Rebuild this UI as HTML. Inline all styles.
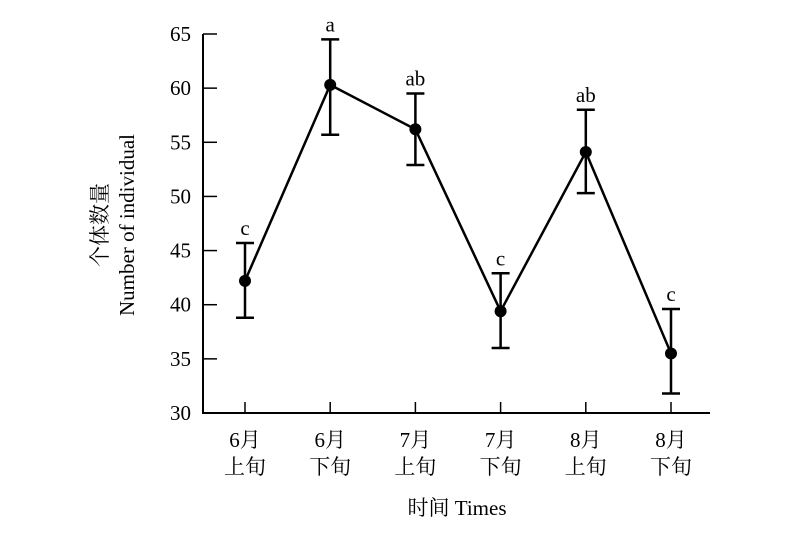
<!DOCTYPE html>
<html><head><meta charset="utf-8"><style>body{margin:0;background:#fff}svg{display:block}text{font-family:"Liberation Serif","Noto Serif CJK SC",serif;fill:#000}</style></head>
<body>
<svg width="800" height="536" xmlns="http://www.w3.org/2000/svg">
<g id="axes"></g><g id="marks"></g>
</svg>
<script>
const categories=[["6月","上旬"],["6月","下旬"],["7月","上旬"],["7月","下旬"],["8月","上旬"],["8月","下旬"]];
const means=[42.2,60.3,56.2,39.4,54.1,35.5];
const lows=[38.8,55.7,52.9,36.0,50.3,31.8];
const highs=[45.7,64.5,59.5,42.9,58.0,39.6];
const letters=["c","a","ab","c","ab","c"];
const yTicks=[30,35,40,45,50,55,60,65];
const NS="http://www.w3.org/2000/svg";
const x0=203,x1=710,yTop=34,yBot=413;
const y=v=>yBot-(v-30)/(65-30)*(yBot-yTop);
const xs=i=>245+i*85.2;
function mk(p,t,a){const e=document.createElementNS(NS,t);for(const k in a)e.setAttribute(k,a[k]);p.appendChild(e);return e;}
const ax=document.getElementById('axes'),mg=document.getElementById('marks');
let e=mk(ax,'path',{d:`M${x0} ${yTop}V${yBot}H${x1}`,stroke:'#000','stroke-width':2,fill:'none'});

yTicks.forEach(v=>{
 let t=mk(ax,'line',{x1:x0,x2:x0+14,y1:y(v),y2:y(v),stroke:'#000','stroke-width':1.5});
 
 let l=mk(ax,'text',{x:x0-12,y:y(v)+7,'text-anchor':'end','font-size':21});l.textContent=v;
 
});
categories.forEach((c,i)=>{
 let t=mk(ax,'line',{x1:xs(i),x2:xs(i),y1:yBot,y2:yBot-11,stroke:'#000','stroke-width':1.5});
 
 let l=mk(ax,'text',{x:xs(i),y:447,'text-anchor':'middle','font-size':21});l.textContent=c[0];
 
 let l2=mk(ax,'text',{x:xs(i),y:474,'text-anchor':'middle','font-size':21});l2.textContent=c[1];
 
});
let xt=mk(ax,'text',{x:457,y:515,'text-anchor':'middle','font-size':21});xt.textContent='时间 Times';

let yt=mk(ax,'text',{transform:'translate(107,225) rotate(-90)','text-anchor':'middle','font-size':21});yt.textContent='个体数量';

let yt2=mk(ax,'text',{transform:'translate(134,225) rotate(-90)','text-anchor':'middle','font-size':21});yt2.textContent='Number of individual';

let ln=mk(mg,'polyline',{points:means.map((v,i)=>xs(i)+','+y(v)).join(' '),fill:'none',stroke:'#000','stroke-width':2.5});

means.forEach((v,i)=>{
 const X=xs(i);
 let eb=mk(mg,'path',{d:`M${X} ${y(lows[i])}V${y(highs[i])}M${X-9} ${y(lows[i])}H${X+9}M${X-9} ${y(highs[i])}H${X+9}`,stroke:'#000','stroke-width':2.5,fill:'none'});
 
 let p=mk(mg,'circle',{cx:X,cy:y(v),r:6,fill:'#000'});
 
 let s=mk(mg,'text',{x:X,y:y(highs[i])-8,'text-anchor':'middle','font-size':21});s.textContent=letters[i];
 
});
</script>
</body></html>
